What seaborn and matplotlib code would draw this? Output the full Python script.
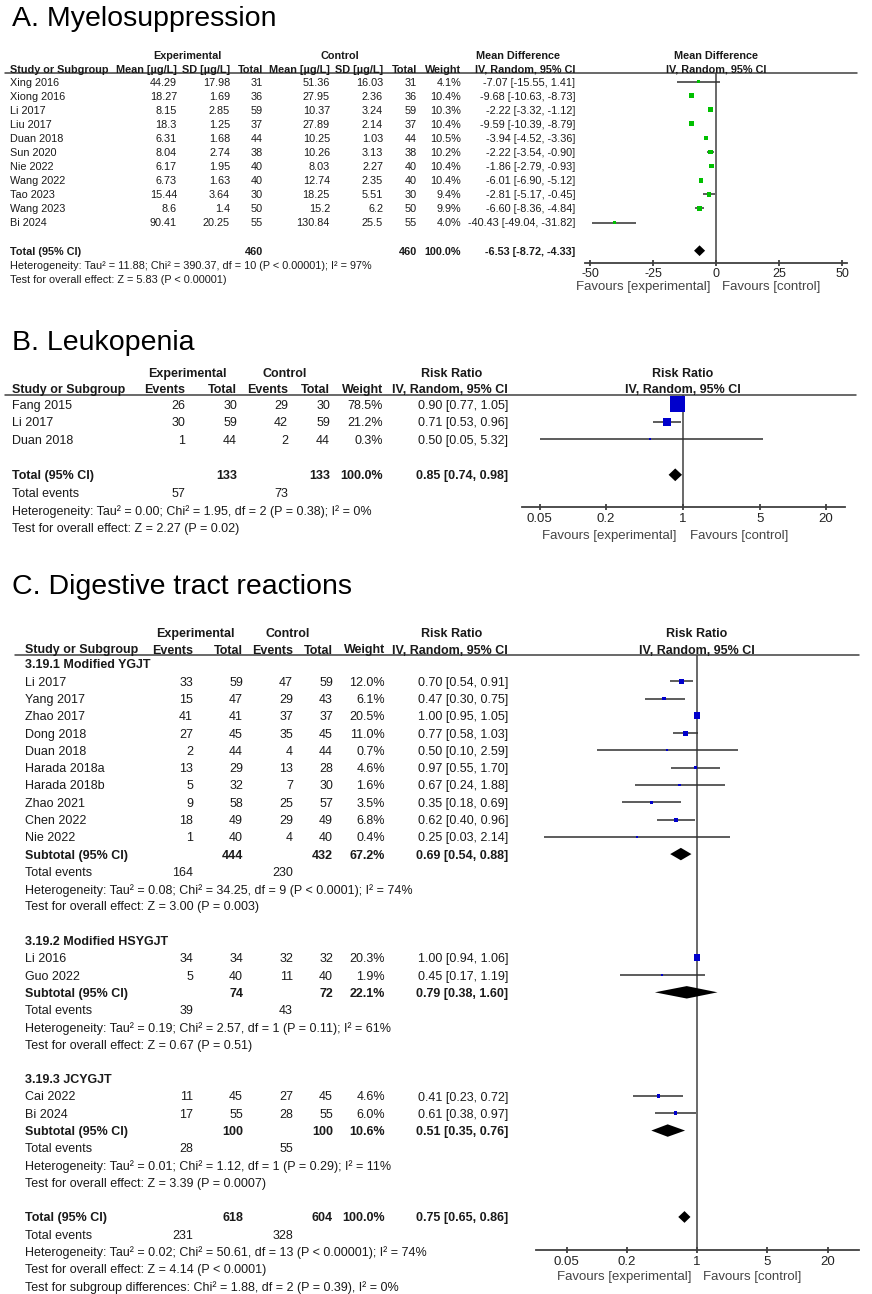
import matplotlib
matplotlib.use("Agg")
import matplotlib.pyplot as plt
import matplotlib.transforms as mtransforms
from matplotlib.lines import Line2D
from matplotlib.ticker import NullLocator
import seaborn as sns
import numpy as np

sns.set_style("white")
plt.rcParams['font.family'] = ['Liberation Sans', 'DejaVu Sans']

# ---------------- A. Myelosuppression (mean difference) ----------------
a_study = ["Xing 2016", "Xiong 2016", "Li 2017", "Liu 2017", "Duan 2018", "Sun 2020",
           "Nie 2022", "Wang 2022", "Tao 2023", "Wang 2023", "Bi 2024"]
a_exp_mean = [44.29, 18.27, 8.15, 18.3, 6.31, 8.04, 6.17, 6.73, 15.44, 8.6, 90.41]
a_exp_sd = [17.98, 1.69, 2.85, 1.25, 1.68, 2.74, 1.95, 1.63, 3.64, 1.4, 20.25]
a_exp_n = [31, 36, 59, 37, 44, 38, 40, 40, 30, 50, 55]
a_ctl_mean = [51.36, 27.95, 10.37, 27.89, 10.25, 10.26, 8.03, 12.74, 18.25, 15.2, 130.84]
a_ctl_sd = [16.03, 2.36, 3.24, 2.14, 1.03, 3.13, 2.27, 2.35, 5.51, 6.2, 25.5]
a_ctl_n = [31, 36, 59, 37, 44, 38, 40, 40, 30, 50, 55]
a_weight = [4.1, 10.4, 10.3, 10.4, 10.5, 10.2, 10.4, 10.4, 9.4, 9.9, 4.0]
a_md = [-7.07, -9.68, -2.22, -9.59, -3.94, -2.22, -1.86, -6.01, -2.81, -6.60, -40.43]
a_lo = [-15.55, -10.63, -3.32, -10.39, -4.52, -3.54, -2.79, -6.90, -5.17, -8.36, -49.04]
a_hi = [1.41, -8.73, -1.12, -8.79, -3.36, -0.90, -0.93, -5.12, -0.45, -4.84, -31.82]
a_total = [460, 460, 100.0, -6.53, -8.72, -4.33]   # n exp, n ctl, weight, md, lo, hi
a_het = "Heterogeneity: Tau\u00b2 = 11.88; Chi\u00b2 = 390.37, df = 10 (P < 0.00001); I\u00b2 = 97%"
a_test = "Test for overall effect: Z = 5.83 (P < 0.00001)"
a_ticks = [-50, -25, 0, 25, 50]

# ---------------- B. Leukopenia (risk ratio) ----------------
b_study = ["Fang 2015", "Li 2017", "Duan 2018"]
b_exp_ev = [26, 30, 1]
b_exp_n = [30, 59, 44]
b_ctl_ev = [29, 42, 2]
b_ctl_n = [30, 59, 44]
b_weight = [78.5, 21.2, 0.3]
b_rr = [0.90, 0.71, 0.50]
b_lo = [0.77, 0.53, 0.05]
b_hi = [1.05, 0.96, 5.32]
b_total = [133, 133, 100.0, 0.85, 0.74, 0.98]
b_events = [57, 73]
b_het = "Heterogeneity: Tau\u00b2 = 0.00; Chi\u00b2 = 1.95, df = 2 (P = 0.38); I\u00b2 = 0%"
b_test = "Test for overall effect: Z = 2.27 (P = 0.02)"

# ---------------- C. Digestive tract reactions (risk ratio) ----------------
c_group = [0, 0, 0, 0, 0, 0, 0, 0, 0, 0, 1, 1, 2, 2]
c_study = ["Li 2017", "Yang 2017", "Zhao 2017", "Dong 2018", "Duan 2018", "Harada 2018a",
           "Harada 2018b", "Zhao 2021", "Chen 2022", "Nie 2022", "Li 2016", "Guo 2022",
           "Cai 2022", "Bi 2024"]
c_exp_ev = [33, 15, 41, 27, 2, 13, 5, 9, 18, 1, 34, 5, 11, 17]
c_exp_n = [59, 47, 41, 45, 44, 29, 32, 58, 49, 40, 34, 40, 45, 55]
c_ctl_ev = [47, 29, 37, 35, 4, 13, 7, 25, 29, 4, 32, 11, 27, 28]
c_ctl_n = [59, 43, 37, 45, 44, 28, 30, 57, 49, 40, 32, 40, 45, 55]
c_weight = [12.0, 6.1, 20.5, 11.0, 0.7, 4.6, 1.6, 3.5, 6.8, 0.4, 20.3, 1.9, 4.6, 6.0]
c_rr = [0.70, 0.47, 1.00, 0.77, 0.50, 0.97, 0.67, 0.35, 0.62, 0.25, 1.00, 0.45, 0.41, 0.61]
c_lo = [0.54, 0.30, 0.95, 0.58, 0.10, 0.55, 0.24, 0.18, 0.40, 0.03, 0.94, 0.17, 0.23, 0.38]
c_hi = [0.91, 0.75, 1.05, 1.03, 2.59, 1.70, 1.88, 0.69, 0.96, 2.14, 1.06, 1.19, 0.72, 0.97]

sub_name = ["3.19.1 Modified YGJT", "3.19.2 Modified HSYGJT", "3.19.3 JCYGJT"]
sub_exp_n = [444, 74, 100]
sub_ctl_n = [432, 72, 100]
sub_weight = [67.2, 22.1, 10.6]
sub_rr = [0.69, 0.79, 0.51]
sub_lo = [0.54, 0.38, 0.35]
sub_hi = [0.88, 1.60, 0.76]
sub_exp_ev = [164, 39, 28]
sub_ctl_ev = [230, 43, 55]
sub_het = ["Heterogeneity: Tau\u00b2 = 0.08; Chi\u00b2 = 34.25, df = 9 (P < 0.0001); I\u00b2 = 74%",
           "Heterogeneity: Tau\u00b2 = 0.19; Chi\u00b2 = 2.57, df = 1 (P = 0.11); I\u00b2 = 61%",
           "Heterogeneity: Tau\u00b2 = 0.01; Chi\u00b2 = 1.12, df = 1 (P = 0.29); I\u00b2 = 11%"]
sub_test = ["Test for overall effect: Z = 3.00 (P = 0.003)",
            "Test for overall effect: Z = 0.67 (P = 0.51)",
            "Test for overall effect: Z = 3.39 (P = 0.0007)"]
c_total = [618, 604, 100.0, 0.75, 0.65, 0.86]
c_events = [231, 328]
c_het = "Heterogeneity: Tau\u00b2 = 0.02; Chi\u00b2 = 50.61, df = 13 (P < 0.00001); I\u00b2 = 74%"
c_test = "Test for overall effect: Z = 4.14 (P < 0.0001)"
c_subdiff = "Test for subgroup differences: Chi\u00b2 = 1.88, df = 2 (P = 0.39), I\u00b2 = 0%"

rr_ticks = [0.05, 0.2, 1, 5, 20]
rr_labels = ["0.05", "0.2", "1", "5", "20"]

# ---------------- drawing helpers ----------------
W, H = 872, 1294
TXT = "#1a1a1a"
LINE = "#404040"
GREEN = "#00c000"
BLUE = "#0000cc"

fig = plt.figure(figsize=(W / 100, H / 100), dpi=100)


def px(x):
    return x / W


def py(y):
    return 1 - y / H


def underline(x0, x1, y):
    fig.add_artist(Line2D([px(x0), px(x1)], [py(y), py(y)], color=LINE, lw=1.1))


def head(x, y, s, size, ha="center"):
    fig.text(px(x), py(y), s, ha=ha, va="center_baseline", fontsize=size,
             fontweight="bold", color=TXT)


def forest_axes(x0, x1, y0, y1, row0, step, xlim, log=False):
    ax = fig.add_axes([px(x0), py(y1), (x1 - x0) / W, (y1 - y0) / H])
    if log:
        ax.set_xscale("log")
    ax.set_xlim(*xlim)
    ax.set_ylim((y1 - row0) / step, (y0 - row0) / step)
    for side in ["top", "left", "right"]:
        ax.spines[side].set_visible(False)
    ax.spines["bottom"].set_color(LINE)
    ax.spines["bottom"].set_linewidth(1.3)
    ax.set_yticks([])
    ax.set_facecolor("none")
    ax.tick_params(axis="x", direction="inout", length=5, width=1.3, color=LINE,
                   labelsize=9.5, labelcolor="#222222", pad=1, bottom=True)
    ax.xaxis.set_minor_locator(NullLocator())
    return ax


def put(ax, x, row, s, size, ha="left", bold=False):
    tr = mtransforms.blended_transform_factory(fig.transFigure, ax.transData)
    ax.text(px(x), row, s, transform=tr, ha=ha, va="center_baseline", fontsize=size,
            fontweight="bold" if bold else "normal", color=TXT)


def diamond(ax, row, est, lo, hi, h=0.36):
    ax.fill([lo, est, hi, est], [row, row - h, row, row + h], color="black", lw=0, zorder=4)


def squares(ax, rows, est, lo, hi, weight, color, scale, smin):
    ax.hlines(rows, lo, hi, color="#303030", lw=1.1, zorder=2)
    sizes = np.maximum(np.array(weight) * scale, smin)
    sns.scatterplot(x=est, y=rows, s=sizes, marker="s", color=color, linewidth=0,
                    legend=False, ax=ax, zorder=3)


def favours(ax, ref, dy, dx=4):
    ax.annotate("Favours [experimental]", xy=(ref, 0), xycoords=("data", "axes fraction"),
                xytext=(-dx, -dy), textcoords="offset points", ha="right", va="center",
                fontsize=9.5, color="#444444")
    ax.annotate("Favours [control]", xy=(ref, 0), xycoords=("data", "axes fraction"),
                xytext=(dx, -dy), textcoords="offset points", ha="left", va="center",
                fontsize=9.5, color="#444444")


def ci_text(est, lo, hi):
    return f"{est:.2f} [{lo:.2f}, {hi:.2f}]"


TITLE = 20.5

# ======================= Panel A =======================
fig.text(px(12), py(26), "A. Myelosuppression", fontsize=TITLE, color="black", va="baseline")
fa = 7.8
axA = forest_axes(585, 847, 73, 263, 81.5, 14.1, (-52, 52))
underline(5, 857, 73)
axA.axvline(0, color=LINE, lw=1.1, zorder=1)
axA.set_xticks(a_ticks)
axA.set_xticklabels([str(t) for t in a_ticks])
axA.tick_params(axis="x", labelsize=9)

head(187, 55, "Experimental", fa)
head(340, 55, "Control", fa)
head(518, 55, "Mean Difference", fa)
head(716, 55, "Mean Difference", fa)
head(10, 69, "Study or Subgroup", fa, "left")
for x, s in [(177, "Mean [\u00b5g/L]"), (230, "SD [\u00b5g/L]"), (263, "Total"),
             (330, "Mean [\u00b5g/L]"), (383, "SD [\u00b5g/L]"), (417, "Total"),
             (461, "Weight"), (575, "IV, Random, 95% CI")]:
    head(x, 69, s, fa, "right")
head(716, 69, "IV, Random, 95% CI", fa)

for i, name in enumerate(a_study):
    put(axA, 10, i, name, fa)
    put(axA, 177, i, f"{a_exp_mean[i]:g}", fa, "right")
    put(axA, 230, i, f"{a_exp_sd[i]:g}", fa, "right")
    put(axA, 263, i, str(a_exp_n[i]), fa, "right")
    put(axA, 330, i, f"{a_ctl_mean[i]:g}", fa, "right")
    put(axA, 383, i, f"{a_ctl_sd[i]:g}", fa, "right")
    put(axA, 417, i, str(a_ctl_n[i]), fa, "right")
    put(axA, 461, i, f"{a_weight[i]:.1f}%", fa, "right")
    put(axA, 575, i, ci_text(a_md[i], a_lo[i], a_hi[i]), fa, "right")
squares(axA, list(range(len(a_study))), a_md, a_lo, a_hi, a_weight, GREEN, 1.1, 3)

r = len(a_study) + 1
put(axA, 10, r, "Total (95% CI)", fa, bold=True)
put(axA, 263, r, str(a_total[0]), fa, "right", True)
put(axA, 417, r, str(a_total[1]), fa, "right", True)
put(axA, 461, r, f"{a_total[2]:.1f}%", fa, "right", True)
put(axA, 575, r, ci_text(*a_total[3:]), fa, "right", True)
diamond(axA, r, *a_total[3:], h=0.38)
put(axA, 10, r + 1, a_het, fa)
put(axA, 10, r + 2, a_test, fa)
favours(axA, 0, 17)

# ======================= Panel B =======================
fig.text(px(12), py(350), "B. Leukopenia", fontsize=TITLE, color="black", va="baseline")
fb = 9.0
axB = forest_axes(522, 845, 395, 507, 404, 17.7, (0.0344, 29.7), log=True)
underline(5, 856, 395)
axB.axvline(1, color=LINE, lw=1.1, zorder=1)
axB.set_xticks(rr_ticks)
axB.set_xticklabels(rr_labels)
axB.tick_params(axis="x", pad=2)

head(187, 373, "Experimental", fb)
head(285, 373, "Control", fb)
head(452, 373, "Risk Ratio", fb)
head(683, 373, "Risk Ratio", fb)
head(12, 388, "Study or Subgroup", fb, "left")
for x, s in [(185, "Events"), (237, "Total"), (288, "Events"), (330, "Total"),
             (383, "Weight"), (508, "IV, Random, 95% CI")]:
    head(x, 388, s, fb, "right")
head(683, 388, "IV, Random, 95% CI", fb)

for i, name in enumerate(b_study):
    put(axB, 12, i, name, fb)
    put(axB, 185, i, str(b_exp_ev[i]), fb, "right")
    put(axB, 237, i, str(b_exp_n[i]), fb, "right")
    put(axB, 288, i, str(b_ctl_ev[i]), fb, "right")
    put(axB, 330, i, str(b_ctl_n[i]), fb, "right")
    put(axB, 383, i, f"{b_weight[i]:.1f}%", fb, "right")
    put(axB, 508, i, ci_text(b_rr[i], b_lo[i], b_hi[i]), fb, "right")
squares(axB, list(range(len(b_study))), b_rr, b_lo, b_hi, b_weight, BLUE, 1.5, 2.5)

r = len(b_study) + 1
put(axB, 12, r, "Total (95% CI)", fb, bold=True)
put(axB, 237, r, str(b_total[0]), fb, "right", True)
put(axB, 330, r, str(b_total[1]), fb, "right", True)
put(axB, 383, r, f"{b_total[2]:.1f}%", fb, "right", True)
put(axB, 508, r, ci_text(*b_total[3:]), fb, "right", True)
diamond(axB, r, *b_total[3:], h=0.36)
put(axB, 12, r + 1, "Total events", fb)
put(axB, 185, r + 1, str(b_events[0]), fb, "right")
put(axB, 288, r + 1, str(b_events[1]), fb, "right")
put(axB, 12, r + 2, b_het, fb)
put(axB, 12, r + 3, b_test, fb)
favours(axB, 1, 21, 5)

# ======================= Panel C =======================
fig.text(px(12), py(594), "C. Digestive tract reactions", fontsize=TITLE, color="black",
         va="baseline")
fc = 9.0
axC = forest_axes(536, 859, 655, 1250, 664, 17.28, (0.0248, 41.2), log=True)
underline(15, 859, 655)
axC.axvline(1, color=LINE, lw=1.1, zorder=1)
axC.set_xticks(rr_ticks)
axC.set_xticklabels(rr_labels)
axC.tick_params(axis="x", pad=2)

head(195, 632, "Experimental", fc)
head(288, 632, "Control", fc)
head(452, 632, "Risk Ratio", fc)
head(697, 632, "Risk Ratio", fc)
head(25, 649, "Study or Subgroup", fc, "left")
for x, s in [(193, "Events"), (243, "Total"), (293, "Events"), (333, "Total"),
             (385, "Weight"), (508, "IV, Random, 95% CI")]:
    head(x, 649, s, fc, "right")
head(697, 649, "IV, Random, 95% CI", fc)

r = 0
for g in range(len(sub_name)):
    put(axC, 25, r, sub_name[g], fc, bold=True)
    r += 1
    idx = [k for k in range(len(c_study)) if c_group[k] == g]
    rows = []
    for k in idx:
        put(axC, 25, r, c_study[k], fc)
        put(axC, 193, r, str(c_exp_ev[k]), fc, "right")
        put(axC, 243, r, str(c_exp_n[k]), fc, "right")
        put(axC, 293, r, str(c_ctl_ev[k]), fc, "right")
        put(axC, 333, r, str(c_ctl_n[k]), fc, "right")
        put(axC, 385, r, f"{c_weight[k]:.1f}%", fc, "right")
        put(axC, 508, r, ci_text(c_rr[k], c_lo[k], c_hi[k]), fc, "right")
        rows.append(r)
        r += 1
    squares(axC, rows, [c_rr[k] for k in idx], [c_lo[k] for k in idx],
            [c_hi[k] for k in idx], [c_weight[k] for k in idx], BLUE, 1.2, 2.5)
    put(axC, 25, r, "Subtotal (95% CI)", fc, bold=True)
    put(axC, 243, r, str(sub_exp_n[g]), fc, "right", True)
    put(axC, 333, r, str(sub_ctl_n[g]), fc, "right", True)
    put(axC, 385, r, f"{sub_weight[g]:.1f}%", fc, "right", True)
    put(axC, 508, r, ci_text(sub_rr[g], sub_lo[g], sub_hi[g]), fc, "right", True)
    diamond(axC, r, sub_rr[g], sub_lo[g], sub_hi[g], h=0.36)
    put(axC, 25, r + 1, "Total events", fc)
    put(axC, 193, r + 1, str(sub_exp_ev[g]), fc, "right")
    put(axC, 293, r + 1, str(sub_ctl_ev[g]), fc, "right")
    put(axC, 25, r + 2, sub_het[g], fc)
    put(axC, 25, r + 3, sub_test[g], fc)
    r += 5

put(axC, 25, r, "Total (95% CI)", fc, bold=True)
put(axC, 243, r, str(c_total[0]), fc, "right", True)
put(axC, 333, r, str(c_total[1]), fc, "right", True)
put(axC, 385, r, f"{c_total[2]:.1f}%", fc, "right", True)
put(axC, 508, r, ci_text(*c_total[3:]), fc, "right", True)
diamond(axC, r, *c_total[3:], h=0.34)
put(axC, 25, r + 1, "Total events", fc)
put(axC, 193, r + 1, str(c_events[0]), fc, "right")
put(axC, 293, r + 1, str(c_events[1]), fc, "right")
put(axC, 25, r + 2, c_het, fc)
put(axC, 25, r + 3, c_test, fc)
put(axC, 25, r + 4, c_subdiff, fc)
favours(axC, 1, 19.5, 4)

fig.savefig("out.png", dpi=100)
